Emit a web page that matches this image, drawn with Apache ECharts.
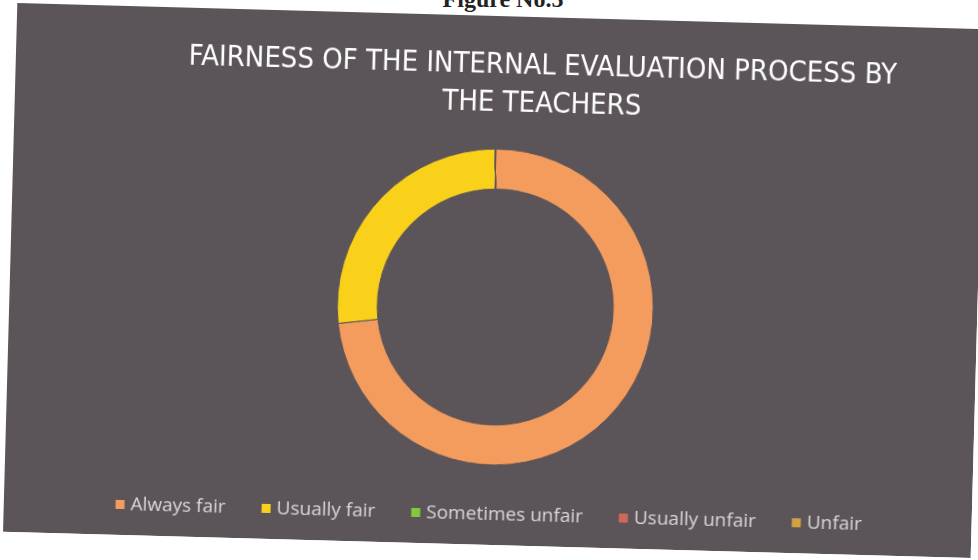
<!DOCTYPE html>
<html>
<head>
<meta charset="utf-8">
<script src="https://cdn.jsdelivr.net/npm/echarts@6/dist/echarts.min.js"></script>
<style>
html, body {
  margin: 0;
  padding: 0;
  width: 978px;
  height: 560px;
  background: #ffffff;
  overflow: hidden;
}
.caption {
  position: absolute;
  left: 0;
  width: 1006px;
  top: -14px;
  text-align: center;
  font-family: "Liberation Serif", serif;
  font-weight: bold;
  font-size: 24px;
  color: #222;
}
#chart {
  position: absolute;
  left: 10px;
  top: 16px;
  width: 968px;
  height: 529px;
  transform: rotate(1.55deg);
}
</style>
</head>
<body>
<div class="caption">Figure No.5</div>
<div id="chart"></div>
<script>
// answers of the teachers
var categories = ["Always fair", "Usually fair", "Sometimes unfair", "Usually unfair", "Unfair"];
var counts = [22, 8, 0, 0, 0];
var colors = ["#f39c5d", "#f9d11b", "#86c83c", "#d0685a", "#d3a044"];

var chart = echarts.init(document.getElementById("chart"));
window.addEventListener("resize", function() {
  chart.resize();
});

var pieData = [];
for (var i = 0; i < categories.length; i++) {
  pieData.push({ name: categories[i], value: counts[i] });
}

chart.setOption({
  backgroundColor: "#5b5459",
  color: colors,
  animation: false,
  title: {
    text: "FAIRNESS OF THE INTERNAL EVALUATION PROCESS BY\nTHE TEACHERS",
    left: 522,
    top: 25,
    textAlign: "center",
    textStyle: {
      color: "#ffffff",
      fontFamily: "DejaVu Sans Condensed, sans-serif",
      fontWeight: "normal",
      fontSize: 29,
      lineHeight: 38
    }
  },
  legend: {
    data: categories,
    left: "center",
    top: 484,
    icon: "rect",
    itemWidth: 11,
    itemHeight: 11,
    itemGap: 34,
    textStyle: {
      color: "#d9d9d9",
      fontFamily: "Open Sans",
      fontSize: 19
    }
  },
  series: [
    {
      name: "Fairness",
      type: "pie",
      center: [486, 291],
      radius: [118, 158],
      startAngle: 91.5,
      clockwise: true,
      label: { show: false },
      labelLine: { show: false },
      itemStyle: {
        borderColor: "#5b5459",
        borderWidth: 1
      },
      data: pieData
    }
  ]
});
</script>
</body>
</html>
